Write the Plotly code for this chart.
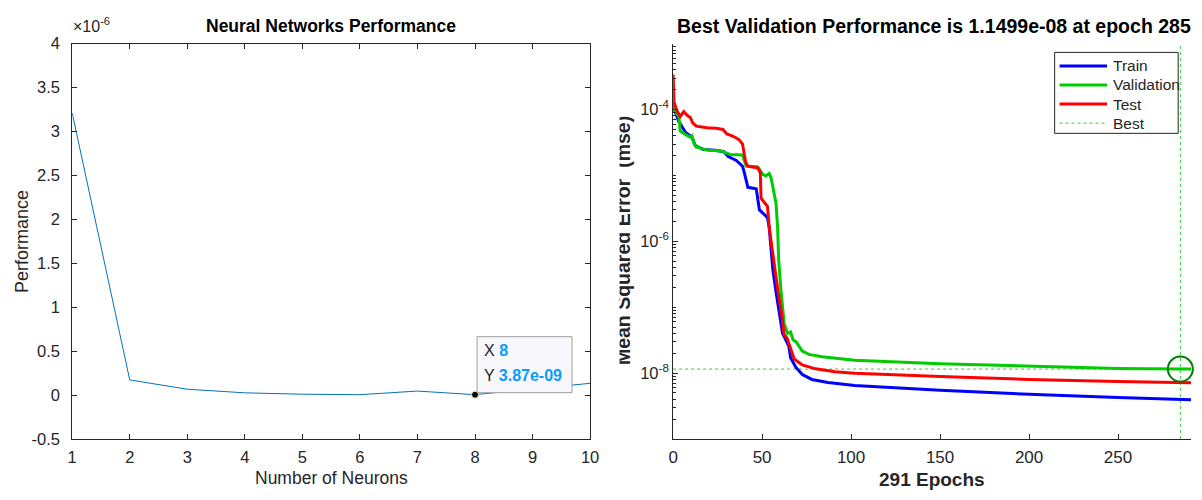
import plotly.graph_objects as go

W, H = 1202, 500
INK = "#262626"
FONT = "Liberation Sans, Arial, sans-serif"

# ---- left panel: performance vs. number of hidden neurons ----
neurons = [1, 2, 3, 4, 5, 6, 7, 8, 9, 10]
performance = [3.21e-6, 0.172e-6, 0.066e-6, 0.025e-6, 0.009e-6,
               0.004e-6, 0.045e-6, 3.87e-9, 0.07e-6, 0.133e-6]
perf_ticks = [-0.5e-6, 0.0, 0.5e-6, 1.0e-6, 1.5e-6, 2.0e-6, 2.5e-6, 3.0e-6, 3.5e-6, 4.0e-6]
perf_tick_labels = ["-0.5", "0", "0.5", "1", "1.5", "2", "2.5", "3", "3.5", "4"]
tip_neurons = 8
tip_perf = 3.87e-9

# ---- right panel: training record (mse per epoch) ----
train_epoch = [0, 0.4, 3.2, 5, 7, 10.6, 12.4, 17, 23.5, 28.5, 31, 35.5, 39, 40, 42, 46.7,
               48.5, 51.3, 53, 54, 55, 56, 57.8, 59.6, 61.5, 62.4, 65, 66, 69, 72.6,
               78, 87, 102, 150, 200, 250, 291]
train_mse = [1.23e-4, 1.04e-4, 6.6e-5, 5.6e-5, 4.5e-5, 3.8e-5, 2.85e-5, 2.47e-5, 2.41e-5,
             2.29e-5, 1.93e-5, 1.69e-5, 1.38e-5, 1.10e-5, 6.6e-6, 6.25e-6, 3.0e-6, 2.55e-6,
             2.28e-6, 1.62e-6, 7.1e-7, 3.8e-7, 1.72e-7, 8.8e-8, 4.0e-8, 3.6e-8, 2.55e-8,
             1.71e-8, 1.22e-8, 9.5e-9, 8.0e-9, 7.2e-9, 6.5e-9, 5.5e-9, 4.75e-9, 4.25e-9, 3.95e-9]

val_epoch = [0, 0.4, 3.2, 4, 6.9, 9.6, 10.6, 11.5, 13, 15, 18, 20, 27, 32, 39, 41, 47.6,
             50.4, 52, 54, 55, 57.8, 58.7, 59.3, 60.5, 62.4, 64.3, 66, 67.4, 69, 72.6,
             76.3, 83.7, 95, 102, 150, 200, 250, 285, 291]
val_mse = [1.23e-4, 9.8e-5, 7.85e-5, 4.7e-5, 4.2e-5, 3.8e-5, 4.0e-5, 3.2e-5, 2.7e-5,
           2.64e-5, 2.47e-5, 2.41e-5, 2.36e-5, 2.08e-5, 2.04e-5, 1.39e-5, 1.35e-5, 1.04e-5,
           9.8e-6, 1.07e-5, 9.3e-6, 3.8e-6, 1.63e-6, 5.3e-7, 1.92e-7, 5.6e-8, 4.0e-8, 4.2e-8,
           3.2e-8, 3.0e-8, 2.15e-8, 1.92e-8, 1.77e-8, 1.63e-8, 1.57e-8, 1.39e-8, 1.26e-8,
           1.17e-8, 1.1499e-8, 1.149e-8]

test_epoch = [0, 0.5, 2, 4, 6, 8, 9.6, 11, 13, 19, 24, 28, 30, 34, 37, 39, 40.7, 42, 47.6,
              49, 49.4, 51.3, 53, 54, 55, 56, 58.7, 61, 62.4, 64, 65, 66, 68, 72.6, 80, 91,
              102, 150, 200, 250, 291]
test_mse = [3.4e-4, 1.30e-4, 9.8e-5, 7.85e-5, 9.3e-5, 8.1e-5, 7.6e-5, 6.3e-5, 5.6e-5,
            5.3e-5, 5.2e-5, 5.0e-5, 4.3e-5, 3.9e-5, 3.5e-5, 3.0e-5, 1.62e-5, 1.38e-5,
            1.30e-5, 1.10e-5, 4.5e-6, 3.8e-6, 3.4e-6, 1.62e-6, 1.02e-6, 6.6e-7, 1.92e-7,
            7.8e-8, 3.8e-8, 3.4e-8, 2.84e-8, 2.4e-8, 1.63e-8, 1.33e-8, 1.16e-8, 1.05e-8,
            9.9e-9, 8.9e-9, 8.0e-9, 7.45e-9, 7.15e-9]

best_epoch = 285
best_perf = 1.1499e-8
n_epochs = 291
mse_range_exp = [-9, -3]
epoch_ticks = [0, 50, 100, 150, 200, 250]
mse_ticks = [1e-8, 1e-6, 1e-4]
mse_tick_labels = ["10<sup>-8</sup>", "10<sup>-6</sup>", "10<sup>-4</sup>"]
mse_minor = [k * 10.0 ** e for e in range(mse_range_exp[0], mse_range_exp[1]) for k in range(1, 10)] + [1e-3]


def px(x):
    return x / W


def py(y):
    return 1 - y / H


fig = go.Figure()

# left panel traces
fig.add_trace(go.Scatter(x=neurons, y=performance, mode="lines",
                         line=dict(color="#0072BD", width=1), xaxis="x", yaxis="y",
                         showlegend=False, hoverinfo="skip"))
fig.add_trace(go.Scatter(x=[tip_neurons], y=[tip_perf], mode="markers",
                         marker=dict(color="black", size=7, line=dict(color="#F5F0B0", width=1)),
                         xaxis="x", yaxis="y", showlegend=False, hoverinfo="skip"))

# right panel traces
BEST_COL = "#3CC83C"
fig.add_trace(go.Scatter(x=[best_epoch, best_epoch],
                         y=[10.0 ** mse_range_exp[0], 10.0 ** mse_range_exp[1]],
                         mode="lines", line=dict(color=BEST_COL, width=1, dash="dot"),
                         xaxis="x2", yaxis="y2", showlegend=False, hoverinfo="skip"))
fig.add_trace(go.Scatter(x=[0, best_epoch], y=[best_perf, best_perf],
                         mode="lines", line=dict(color=BEST_COL, width=1, dash="dot"),
                         xaxis="x2", yaxis="y2", showlegend=False, hoverinfo="skip"))
fig.add_trace(go.Scatter(x=train_epoch, y=train_mse, mode="lines", name="Train",
                         line=dict(color="#0000FF", width=3), xaxis="x2", yaxis="y2",
                         showlegend=False))
fig.add_trace(go.Scatter(x=val_epoch, y=val_mse, mode="lines", name="Validation",
                         line=dict(color="#00CC00", width=3), xaxis="x2", yaxis="y2",
                         showlegend=False))
fig.add_trace(go.Scatter(x=test_epoch, y=test_mse, mode="lines", name="Test",
                         line=dict(color="#FF0000", width=3), xaxis="x2", yaxis="y2",
                         showlegend=False))
fig.add_trace(go.Scatter(x=[best_epoch], y=[best_perf], mode="markers",
                         marker=dict(symbol="circle-open", size=25, color="#008000",
                                     line=dict(width=2, color="#008000")),
                         xaxis="x2", yaxis="y2", showlegend=False, hoverinfo="skip",
                         cliponaxis=False))


def axis_style(size):
    return dict(showgrid=False, zeroline=False, showline=True, linecolor=INK,
                linewidth=1, ticks="inside", tickcolor=INK, ticklen=5,
                tickfont=dict(family=FONT, size=size, color=INK))


fig.update_layout(
    width=W, height=H, margin=dict(l=0, r=0, t=0, b=0),
    paper_bgcolor="white", plot_bgcolor="white",
    font=dict(family=FONT, color=INK),
    xaxis=dict(domain=[px(68), px(592)], range=[1, 10], tickvals=neurons,
               mirror="ticks", anchor="y", ticklabelstandoff=3, **axis_style(16.5)),
    yaxis=dict(domain=[py(446), py(36)], range=[-0.5e-6, 4e-6], tickvals=perf_ticks,
               ticktext=perf_tick_labels, mirror="ticks", anchor="x",
               ticklabelstandoff=8, **axis_style(16.5)),
    xaxis2=dict(domain=[px(676), px(1200)], range=[0, n_epochs], tickvals=epoch_ticks,
                anchor="y2", ticklabelstandoff=3, **axis_style(17)),
    yaxis2=dict(domain=[py(446), py(36)], type="log", range=mse_range_exp,
                tickvals=mse_ticks, ticktext=mse_tick_labels, anchor="x2",
                ticklabelstandoff=0,
                minor=dict(tickmode="array", tickvals=mse_minor, ticks="inside",
                           ticklen=3, tickcolor=INK),
                **axis_style(16.5)),
)

ann = []
# left panel text
ann.append(dict(text="<b>Neural Networks Performance</b>", x=px(330), y=py(18),
                font=dict(size=17.5, color="black")))
ann.append(dict(text="\u00d710<sup>-6</sup>", x=px(67), y=py(17), xanchor="left",
                font=dict(size=16, color=INK)))
ann.append(dict(text="Performance", x=px(18), y=py(241), textangle=-90,
                font=dict(size=18, color=INK)))
ann.append(dict(text="Number of Neurons", x=px(330), y=py(487),
                font=dict(size=17.5, color=INK)))
# data tip labels
tip_blue = "#0A9BFF"
for label, val, ys in [("X", str(tip_neurons), 44), ("Y", f"{tip_perf:.2e}", 19)]:
    ann.append(dict(text=f"{label} <b><span style='color:{tip_blue}'>{val}</span></b>",
                    xref="x", yref="y", x=tip_neurons, y=tip_perf, xanchor="left",
                    yanchor="middle", xshift=7, yshift=ys, showarrow=False,
                    font=dict(size=16, color=INK)))

# right panel text
ann.append(dict(text=f"<b>Best Validation Performance is {best_perf:.4e} at epoch {best_epoch}</b>",
                x=px(940), y=py(18), font=dict(size=19.5, color="black")))
ann.append(dict(text="<b>Mean Squared Error  (mse)</b>", x=px(626), y=py(240),
                textangle=-90, font=dict(size=19.5, color=INK)))
ann.append(dict(text="\u00a0", x=px(598), y=py(240), xanchor="left", width=22, height=320,
                bgcolor="white", borderpad=0))
ann.append(dict(text=f"<b>{n_epochs} Epochs</b>", x=px(938), y=py(488),
                font=dict(size=19, color=INK)))

# legend entries
legend_items = [("Train", "#0000FF", 3, "solid"), ("Validation", "#00CC00", 3, "solid"),
                ("Test", "#FF0000", 3, "solid"), ("Best", BEST_COL, 1, "dot")]
shapes = [dict(type="rect", xref="paper", yref="paper", x0=px(1062), x1=px(1187),
               y0=py(129), y1=py(45), line=dict(color=INK, width=1), fillcolor="white",
               layer="above")]
for i, (name, col, wd, dash) in enumerate(legend_items):
    yy = 59 + i * 19.8
    shapes.append(dict(type="line", xref="paper", yref="paper", x0=px(1067), x1=px(1115),
                       y0=py(yy), y1=py(yy), line=dict(color=col, width=wd, dash=dash),
                       layer="above"))
    ann.append(dict(text=name, x=px(1119), y=py(yy), xanchor="left",
                    font=dict(size=15.5, color=INK)))

# data tip box, sized in pixels around the selected point
shapes.append(dict(type="rect", xref="x", yref="y", xsizemode="pixel", ysizemode="pixel",
                   xanchor=tip_neurons, yanchor=tip_perf, x0=2, x1=97, y0=2, y1=58,
                   fillcolor="#F7F7FC", line=dict(color="#A0A0A0", width=1), layer="above"))

for a in ann:
    a.setdefault("xref", "paper")
    a.setdefault("yref", "paper")
    a.setdefault("showarrow", False)
    a.setdefault("xanchor", "center")
    a.setdefault("yanchor", "middle")
fig.update_layout(annotations=ann, shapes=shapes)

fig.write_html("out.html")
